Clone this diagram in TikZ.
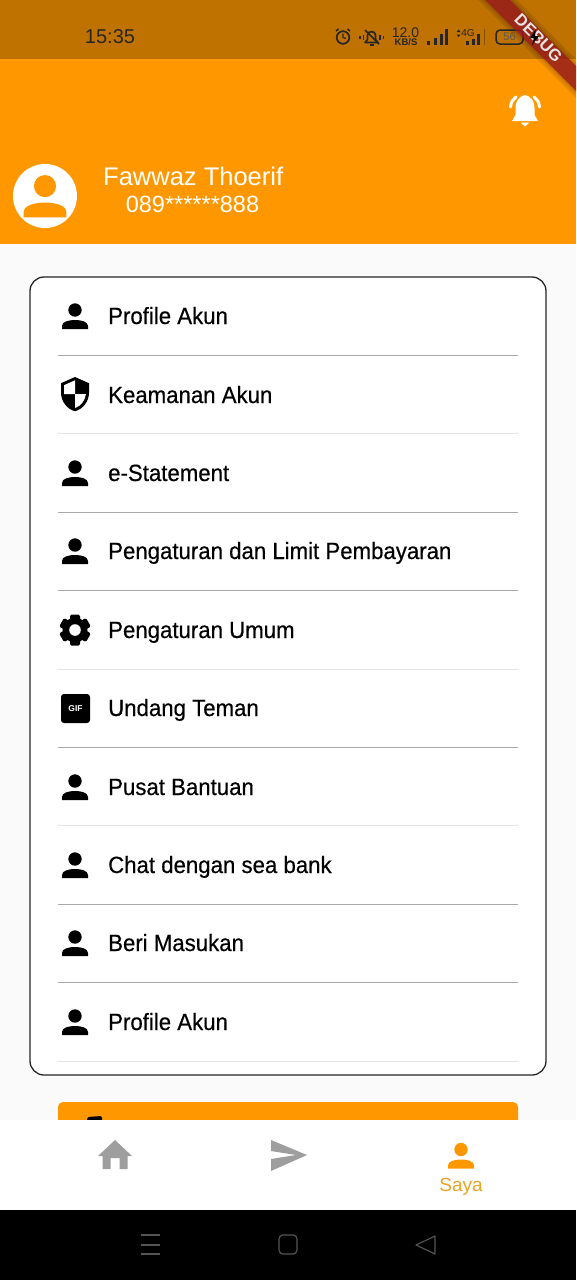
\documentclass[tikz,border=0pt]{standalone}
\usepackage{fontspec}
\setmainfont{Liberation Sans}
\newfontfamily\itemfont[FakeBold=0.4,FakeStretch=0.945]{Liberation Sans}
\usetikzlibrary{positioning}
\definecolor{appOrange}{HTML}{FF9800}
\definecolor{barOrange}{HTML}{C07200}
\definecolor{pageGray}{HTML}{FAFAFA}
\definecolor{navGray}{HTML}{9E9E9E}
\definecolor{sayaText}{HTML}{EBA327}
\definecolor{softKey}{HTML}{555555}
\definecolor{bannerRed}{HTML}{9C1C1C}
\definecolor{lineDark}{HTML}{A8A8A8}
\definecolor{lineSoft}{HTML}{E3E3E3}
\tikzset{
  itemlabel/.style={anchor=base west,inner sep=0pt,font=\itemfont\fontsize{23.5}{26}\selectfont},
  statuslabel/.style={inner sep=0pt,text=black!85},
  softkey/.style={draw=softKey,line width=1.1pt,line join=round},
  pics/personicon/.style={code={
    \fill[#1] (0,-6) circle (6.7);
    \fill[#1] (-13,13) -- (-13,10) .. controls (-13,5.5) and (-6,4) .. (0,4)
      .. controls (6,4) and (13,5.5) .. (13,10) -- (13,13) -- cycle;
  }}
}
\begin{document}
\begin{tikzpicture}[x=1pt,y=-1pt]
\useasboundingbox (0,0) rectangle (576,1280);
% page
\fill[pageGray] (0,0) rectangle (576,1280);
\fill[barOrange] (0,0) rectangle (576,59);
\fill[appOrange] (0,59) rectangle (576,244);

% status bar
\node[statuslabel,font=\fontsize{20}{22}\selectfont] (clocktime) at (110,37) {15:35};
\draw[line width=1.7pt,black!85] (343,37.5) circle (6.3);
\draw[line width=1.2pt,black!85] (343,33.5) -- (343,37.5) -- (346,38.5);
\draw[line width=1.5pt,black!85] (336,31) -- (338.5,29) (350,31) -- (347.5,29);
\draw[line width=1.6pt,black!85,line join=round] (365,42.5) -- (367.5,39.5) -- (367.5,35)
  .. controls (367.5,30.5) and (375.5,30.5) .. (375.5,35) -- (375.5,39.5) -- (378,42.5) -- cycle;
\draw[line width=1.5pt,black!85] (365,30) -- (379,44);
\draw[line width=1.8pt,black!85] (363.5,34.5) -- (363.5,40) (380,34.5) -- (380,40)
  (360,36) -- (360,38.5) (383.5,36) -- (383.5,38.5);
\fill[black!85] (369.5,44) rectangle (373.5,46);
\node[statuslabel,font=\fontsize{14}{14}\selectfont] (speedvalue) at (405.5,32.5) {12.0};
\node[statuslabel,font=\bfseries\fontsize{9.5}{10}\selectfont] (speedunit) at (406,42.5) {KB/S};
\foreach \x/\h in {428.5/4,435/7,441/11,446.5/16}
  \fill[black!85] (\x-1.5,44.5) rectangle (\x+1.5,44.5-\h);
\node[statuslabel,font=\fontsize{10}{10}\selectfont] (nettype) at (468,33) {4G};
\fill[black!85] (458.5,29.5) -- (456.5,32) -- (460.5,32) -- cycle (458.5,37) -- (456.5,34.5) -- (460.5,34.5) -- cycle;
\foreach \x/\h in {467/4,473/6,478.5/11}
  \fill[black!85] (\x-1.5,44.5) rectangle (\x+1.5,44.5-\h);
\draw[black!30!barOrange,line width=1pt] (484.5,29) -- (484.5,45);
\draw[line width=1.5pt,black!85,rounded corners=4pt] (496,30) rectangle (523,44);
\node[statuslabel,font=\fontsize{11}{12}\selectfont,text=black!65] (batterylevel) at (509.5,37) {56};

% debug banner
\fill[black,opacity=.10] (478,0) -- (517,0) -- (576,59) -- (576,98) -- cycle;
\fill[black,opacity=.10] (482,0) -- (513,0) -- (576,63) -- (576,94) -- cycle;
\fill[bannerRed,opacity=.8] (485,0) -- (510,0) -- (576,66) -- (576,91) -- cycle;
\node[rotate=-45,inner sep=0pt,font=\bfseries\fontsize{16.5}{18}\selectfont,text=white!90!black] (debugmark) at (538.5,38) {DEBUG};
\fill[black] (536,29) -- (530,38) -- (534,38) -- (532,45) -- (539,36) -- (535,36) -- cycle;

% header
\fill[white] (525,95) .. controls (518,97) and (515.5,102) .. (515.5,108)
  -- (515.5,115) -- (512,121) -- (538,121) -- (534.5,115) -- (534.5,108)
  .. controls (534.5,102) and (532,97) .. (525,95) -- cycle;
\fill[white] (520.5,122.5) -- (529.5,122.5) -- (525,126.5) -- cycle;
\draw[white,line width=3pt,line cap=round] (510.5,107) .. controls (511,102) and (513,99) .. (516,97);
\draw[white,line width=3pt,line cap=round] (539.5,107) .. controls (539,102) and (537,99) .. (534,97);
\node[circle,fill=white,minimum size=64pt,inner sep=0pt] (avatar) at (45,196) {};
\pic[scale=1.65] at (45,196) {personicon={appOrange}};
\node[anchor=west,inner sep=0pt,text=white,font=\fontsize{25.5}{28}\selectfont] (username) at (103,176) {Fawwaz Thoerif};
\node[inner sep=0pt,text=white,font=\fontsize{23.5}{26}\selectfont] (userphone) at (192.5,204) {089******888};

% orange button behind the nav bar
\fill[appOrange,rounded corners=5pt] (58,1102) rectangle (518,1130);
\fill[black,rounded corners=2pt] (87,1125) -- (87,1117) -- (102,1116) -- (102,1125) -- cycle;

% menu card
\draw[fill=white,draw=black!85,line width=1.3pt,rounded corners=14pt] (30,277) rectangle (546,1075);
\foreach \y/\c in {355/lineDark,433/lineSoft,512/lineDark,590/lineDark,669/lineSoft,747/lineDark,825/lineSoft,904/lineDark,982/lineDark,1061/lineSoft}
  \draw[\c,line width=1.2pt] (58,\y.5) -- (518,\y.5);
\foreach \n/\y/\lab in {a/324/Profile Akun,b/403/Keamanan Akun,c/481/e-Statement,d/559/Pengaturan dan Limit Pembayaran,e/638/Pengaturan Umum,f/716/Undang Teman,g/795/Pusat Bantuan,h/873/Chat dengan sea bank,i/951/Beri Masukan,j/1030/Profile Akun}
  \node[itemlabel] (item\n) at (108,\y) {\lab};
\foreach \y in {316,473,551,787,865,943,1022}
  \pic at (75,\y) {personicon={black}};

% shield
\fill[black] (75,377) -- (61,383.2) -- (61,392.6) .. controls (61,401.2) and (67,409.2) .. (75,411.2)
  .. controls (83,409.2) and (89,401.2) .. (89,392.6) -- (89,383.2) -- cycle;
\fill[white] (75,380.3) -- (64.1,385.2) -- (64.1,394.1) -- (75,394.1) -- cycle;
\fill[white] (75,394.1) -- (85.9,394.1) .. controls (85.1,400.5) and (80.8,406.2) .. (75,408) -- cycle;

% gear
\fill[black] (75,630) circle (12.5);
\foreach \a in {30,90,150}
  \fill[black,rotate around={\a:(75,630)},rounded corners=1.5pt] (59.5,625) rectangle (90.5,635);
\fill[white] (75,630) circle (5.8);

% gif
\node[fill=black,rounded corners=3pt,minimum size=29pt,inner sep=0pt,text=white,font=\bfseries\fontsize{8.5}{9}\selectfont] (gifbox) at (75.5,708.5) {GIF};

% nav bar
\fill[white] (0,1120) rectangle (576,1210);
\fill[navGray] (115,1140) -- (132,1156) -- (127.5,1156) -- (127.5,1169) -- (119.5,1169) -- (119.5,1158)
  -- (110.5,1158) -- (110.5,1169) -- (102.5,1169) -- (102.5,1156) -- (98,1156) -- cycle;
\fill[navGray] (271,1140) -- (307,1155) -- (271,1171) -- (271,1159) -- (296,1155) -- (271,1151) -- cycle;
\pic at (461,1155.5) {personicon={appOrange}};
\node[inner sep=0pt,text=sayaText,font=\fontsize{19}{21}\selectfont] (navsaya) at (461,1187) {Saya};

% soft keys
\fill[black] (0,1210) rectangle (576,1280);
\foreach \y in {1235,1245,1254}
  \draw[softkey] (141,\y) -- (160,\y);
\draw[softkey,rounded corners=4pt] (279,1235) rectangle (297,1254);
\draw[softkey] (416,1245) -- (435,1236) -- (435,1254) -- cycle;
\end{tikzpicture}
\end{document}
